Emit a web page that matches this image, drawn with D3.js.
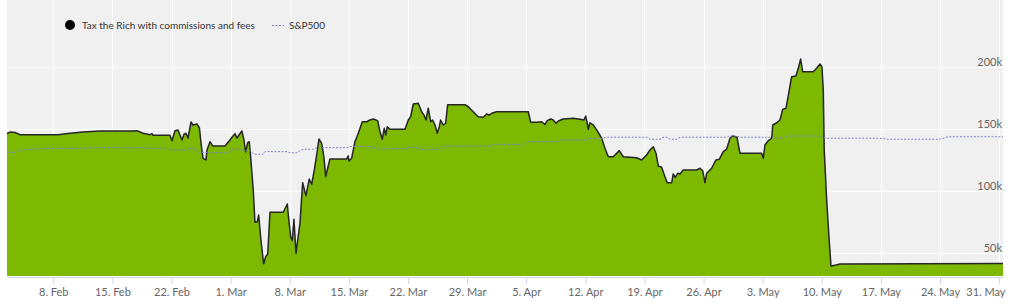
<!DOCTYPE html>
<html>
<head>
<meta charset="utf-8">
<script src="https://cdn.jsdelivr.net/npm/d3@7"></script>
<style>
  html, body { margin: 0; padding: 0; background: #fff; }
  svg { display: block; font-family: Lato, "Open Sans", sans-serif; }
</style>
</head>
<body>
<svg id="chart" width="1023" height="308"></svg>
<script>
// days counted from 1 Feb 2021 (UTC), values in thousands
const portfolioDays = [1.52, 1.87, 2.47, 3.06, 7.56, 8.98, 10.52, 12.53, 16.44, 16.91, 17.62, 18.45, 18.69, 18.81,
    20.82, 21.06, 21.41, 21.77, 22.24, 22.48, 22.71, 22.95, 23.31, 23.54, 24.02, 24.31, 24.49, 24.73, 25.08, 25.20,
    25.56, 25.79, 25.95, 27.33, 27.92, 28.28, 28.52, 28.75, 28.99, 29.34, 29.58, 29.78, 30.02, 30.21, 30.37, 30.68,
    30.88, 31.16, 31.32, 31.59, 31.91, 32.15, 32.39, 32.66, 34.23, 34.71, 34.83, 35.11, 35.30, 35.50, 35.74, 35.89,
    36.21, 36.53, 36.92, 37.31, 37.60, 37.91, 38.19, 38.46, 38.78, 39.05, 39.26, 39.49, 39.76, 41.74, 41.93, 42.01,
    42.33, 42.72, 43.12, 43.59, 44.11, 44.50, 44.89, 45.41, 45.69, 45.96, 46.19, 46.36, 46.55, 46.87, 48.65, 49.04,
    49.32, 49.63, 50.22, 50.62, 50.90, 51.13, 51.40, 51.69, 51.92, 52.20, 52.47, 52.71, 52.87, 53.18, 53.46, 53.70,
    55.75, 56.14, 56.73, 57.32, 57.92, 58.32, 58.59, 58.91, 59.50, 63.25, 63.53, 64.24, 64.83, 65.22, 65.50, 65.90,
    66.21, 66.53, 66.80, 67.39, 68.57, 69.37, 69.84, 70.04, 70.23, 70.35, 70.55, 70.94, 71.34, 71.94, 72.33, 72.72,
    73.31, 74.02, 74.49, 76.08, 76.67, 77.26, 77.66, 78.05, 78.37, 78.64, 79.04, 79.43, 79.70, 80.23, 80.41, 80.65,
    80.94, 81.21, 81.60, 83.19, 83.58, 83.90, 84.17, 84.37, 84.96, 85.47, 85.86, 86.34, 86.74, 87.13, 87.45, 87.96,
    88.31, 90.88, 91.07, 91.27, 91.66, 92.07, 92.19, 92.66, 93.05, 93.37, 93.76, 94.03, 94.43, 94.94, 95.22, 95.50,
    95.74, 96.99, 97.39, 97.79, 98.02, 98.18, 98.29, 98.58, 98.85, 99.09, 99.68, 100.15, 119.46];

const portfolioValues = [146.1, 147.3, 146.9, 145.2, 145.2, 146.3, 147.3, 148.1, 148.1, 148.4, 146.3, 145.2, 146.0, 144.7,
    144.7, 140.3, 148.4, 149.0, 140.9, 145.5, 146.3, 142.5, 155.4, 153.0, 153.8, 150.6, 138.5, 126.1, 124.8, 132.8,
    139.5, 136.9, 136.0, 136.0, 140.9, 144.1, 146.0, 142.5, 144.9, 148.1, 140.9, 131.2, 138.7, 139.5, 127.4, 100.6,
    74.5, 75.0, 80.4, 60.2, 40.9, 46.8, 49.0, 82.6, 82.6, 89.3, 80.4, 62.9, 59.7, 76.9, 49.5, 57.6,
    73.7, 106.5, 96.0, 109.4, 105.2, 116.7, 128.8, 141.7, 138.2, 126.9, 111.3, 118.1, 125.6, 125.6, 128.0, 124.0,
    126.1, 139.5, 146.3, 155.6, 155.6, 157.0, 157.8, 156.5, 147.6, 141.5, 150.3, 144.9, 151.6, 149.5, 149.5, 157.0,
    159.7, 169.9, 170.5, 163.7, 161.0, 157.0, 166.5, 155.6, 157.0, 153.0, 146.3, 151.6, 157.0, 153.0, 154.4, 169.4,
    169.4, 167.7, 163.7, 159.7, 159.2, 161.9, 161.0, 162.4, 163.7, 163.7, 155.2, 155.2, 155.6, 153.5, 156.5, 157.8,
    157.0, 154.4, 156.2, 157.8, 158.4, 157.6, 157.0, 160.2, 154.4, 149.5, 154.8, 153.0, 149.0, 142.3, 134.2, 127.4,
    127.4, 132.3, 127.4, 126.6, 124.8, 128.8, 132.8, 135.5, 130.2, 119.9, 118.9, 111.3, 106.5, 106.5, 113.5, 110.8,
    114.0, 113.5, 116.7, 116.7, 118.1, 116.1, 106.5, 114.0, 118.1, 124.8, 125.3, 131.5, 133.6, 142.3, 144.1, 143.1,
    130.2, 130.2, 126.1, 136.9, 140.3, 142.3, 153.0, 154.8, 157.0, 165.6, 166.5, 176.4, 191.9, 192.5, 198.7, 206.2,
    196.0, 196.0, 198.7, 202.2, 200.0, 181.2, 132.8, 92.5, 62.9, 39.3, 40.1, 40.9, 41.3];

const spDays = [1.52, 2.82, 3.06, 4.60, 6.96, 10.75, 10.99, 17.27, 17.62, 20.46, 20.82, 22.83, 23.19, 23.90, 24.13,
    27.80, 28.16, 29.11, 29.46, 30.29, 30.53, 30.88, 31.83, 32.07, 34.67, 35.03, 35.86, 36.21, 36.57, 37.75, 38.22,
    41.78, 42.13, 44.86, 45.21, 48.88, 49.12, 49.95, 50.42, 52.79, 53.15, 58.71, 59.07, 62.62, 63.09, 66.64, 67.00,
    70.20, 70.55, 71.97, 72.56, 77.30, 77.66, 78.84, 79.20, 79.67, 80.02, 80.85, 81.21, 86.77, 87.01, 87.96, 88.31,
    91.87, 92.22, 93.40, 93.88, 97.79, 98.18, 98.62, 104.89, 105.84, 112.00, 112.94, 119.46];

const spValues = [131.0, 131.0, 132.8, 133.6, 134.2, 134.2, 134.7, 134.7, 134.2, 134.2, 132.8, 132.8, 134.2, 134.2, 131.0,
    130.6, 133.4, 133.4, 132.3, 132.3, 130.6, 129.4, 129.4, 131.5, 131.5, 130.6, 130.6, 132.3, 133.4, 133.4, 134.7,
    134.7, 135.6, 135.6, 133.9, 133.9, 135.0, 135.0, 133.4, 133.4, 136.0, 136.0, 137.4, 137.4, 139.5, 139.5, 140.9,
    140.9, 142.1, 142.1, 143.1, 143.1, 141.5, 141.5, 143.1, 143.1, 141.5, 141.5, 143.1, 143.1, 144.1, 144.1, 143.1,
    143.1, 142.5, 142.5, 144.1, 144.1, 143.3, 142.3, 142.3, 141.5, 141.5, 143.5, 143.5];

const yTicks = [50, 100, 150, 200];
const seriesNames = ["Tax the Rich with commissions and fees", "S&P500"];

const svg = d3.select("#chart");
const plot = {left: 7, right: 1003, top: 0, bottom: 276};
const day0 = Date.UTC(2021, 1, 1);
const toDate = d => new Date(day0 + d * 864e5);

const x = d3.scaleUtc()
    .domain([toDate(1.52), toDate(119.46)])
    .range([plot.left, plot.right]);
const y = d3.scaleLinear()
    .domain([31.2, 253.8])
    .range([plot.bottom, plot.top]);

// plot background
svg.append("rect")
    .attr("x", plot.left).attr("y", plot.top)
    .attr("width", plot.right - plot.left).attr("height", plot.bottom - plot.top)
    .attr("fill", "#f0f0f0");

const weekTicks = x.ticks(d3.utcMonday.every(1));

// grid
const grid = svg.append("g").attr("class", "grid");
grid.selectAll("line.v").data(weekTicks).enter().append("line")
    .attr("class", "v")
    .attr("x1", d => Math.round(x(d)) + 0.5).attr("x2", d => Math.round(x(d)) + 0.5)
    .attr("y1", plot.top).attr("y2", plot.bottom)
    .attr("stroke", "#fff").attr("stroke-width", 1);
grid.selectAll("line.h").data(yTicks).enter().append("line")
    .attr("class", "h")
    .attr("x1", plot.left).attr("x2", plot.right)
    .attr("y1", d => Math.round(y(d)) + 0.5).attr("y2", d => Math.round(y(d)) + 0.5)
    .attr("stroke", "#fff").attr("stroke-width", 1);

const portfolio = portfolioDays.map((d, i) => ({date: toDate(d), value: portfolioValues[i]}));
const sp = spDays.map((d, i) => ({date: toDate(d), value: spValues[i]}));

// portfolio area + its outline
svg.append("path")
    .datum(portfolio)
    .attr("fill", "#7cb900")
    .attr("d", d3.area().x(d => x(d.date)).y0(plot.bottom).y1(d => y(d.value)));

svg.append("path")
    .datum(portfolio)
    .attr("fill", "none")
    .attr("stroke", "#262626")
    .attr("stroke-width", 1.5)
    .attr("stroke-linejoin", "round")
    .attr("d", d3.line().x(d => x(d.date)).y(d => y(d.value)));

// S&P line on top
svg.append("path")
    .datum(sp)
    .attr("fill", "none")
    .attr("stroke", "#7f83d2")
    .attr("stroke-width", 1)
    .attr("stroke-dasharray", "2,1.5")
    .attr("d", d3.line().x(d => x(d.date)).y(d => y(d.value)));

// x axis
const xAxis = svg.append("g")
    .attr("transform", `translate(0,${plot.bottom + 1})`)
    .call(d3.axisBottom(x)
        .tickValues(weekTicks)
        .tickFormat(d3.utcFormat("%-d. %b"))
        .tickSize(7)
        .tickSizeOuter(0)
        .tickPadding(4));
xAxis.select(".domain").attr("stroke", "#ccd6eb").attr("d", `M${plot.left},0.5H${plot.right}`);
xAxis.selectAll(".tick line").attr("stroke", "#ccd6eb");
xAxis.selectAll(".tick text")
    .attr("fill", "#666")
    .attr("font-size", 11)
    .attr("font-family", "Lato, sans-serif");

// keep the last label inside the chart, like the reference
xAxis.selectAll(".tick text").filter((d, i, n) => i === n.length - 1)
    .attr("text-anchor", "end")
    .attr("x", function(d) { return plot.right + 2 - x(d); });

// y labels, inside on the right, above the grid lines
svg.append("g").selectAll("text").data(yTicks).enter().append("text")
    .attr("x", plot.right - 1)
    .attr("y", d => Math.round(y(d)) - 1)
    .attr("text-anchor", "end")
    .attr("fill", "#666")
    .attr("font-size", 11)
    .text(d => d + "k");

// legend
const legend = svg.append("g").attr("class", "legend");
legend.append("circle").attr("cx", 70).attr("cy", 25).attr("r", 5).attr("fill", "#000");
legend.append("text").attr("x", 82).attr("y", 28.5)
    .attr("fill", "#333").attr("font-size", 10)
    .text(seriesNames[0]);
legend.append("line")
    .attr("x1", 272).attr("x2", 284).attr("y1", 25.5).attr("y2", 25.5)
    .attr("stroke", "#7f83d2").attr("stroke-width", 1).attr("stroke-dasharray", "2,1.5");
legend.append("text").attr("x", 289).attr("y", 28.5)
    .attr("fill", "#333").attr("font-size", 10)
    .text(seriesNames[1]);
</script>
</body>
</html>
